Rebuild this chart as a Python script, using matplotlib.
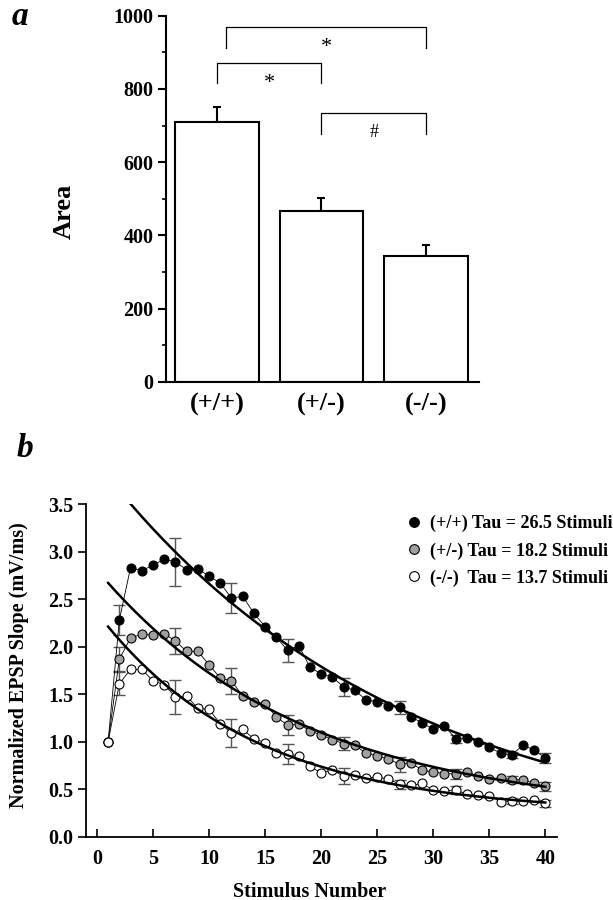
import matplotlib.pyplot as plt
from matplotlib.lines import Line2D
from matplotlib.ticker import MultipleLocator, FormatStrFormatter
import numpy as np

plt.rcParams['font.family'] = ['Liberation Serif', 'DejaVu Serif']
plt.rcParams['font.weight'] = 'bold'
plt.rcParams['axes.labelweight'] = 'bold'

# ---- panel a data ----
genotypes = ['(+/+)', '(+/-)', '(-/-)']
area_mean = [710, 467, 343]
area_sem = [41, 35, 32]
# (left bar, right bar, label)
comparisons = [(0, 2, '*'), (0, 1, '*'), (1, 2, '#')]

# ---- panel b data ----
stimulus = np.arange(1, 41)
slope_wt = [1.00, 2.28, 2.83, 2.80, 2.855, 2.92, 2.89, 2.81, 2.82, 2.74,
            2.67, 2.51, 2.53, 2.35, 2.21, 2.10, 1.96, 2.01, 1.785, 1.71,
            1.68, 1.575, 1.54, 1.44, 1.42, 1.38, 1.36, 1.26, 1.20, 1.13,
            1.165, 1.03, 1.04, 1.00, 0.94, 0.88, 0.86, 0.965, 0.91, 0.83]
slope_het = [1.00, 1.87, 2.09, 2.13, 2.12, 2.135, 2.06, 1.95, 1.95, 1.81,
             1.67, 1.64, 1.48, 1.42, 1.40, 1.26, 1.175, 1.185, 1.115, 1.07,
             1.02, 0.98, 0.96, 0.88, 0.85, 0.82, 0.76, 0.78, 0.70, 0.68,
             0.665, 0.66, 0.68, 0.64, 0.61, 0.62, 0.60, 0.60, 0.56, 0.53]
slope_ko = [1.00, 1.61, 1.76, 1.76, 1.64, 1.60, 1.47, 1.48, 1.35, 1.34,
            1.19, 1.09, 1.13, 1.03, 0.99, 0.88, 0.87, 0.85, 0.74, 0.67,
            0.70, 0.64, 0.65, 0.62, 0.625, 0.61, 0.55, 0.54, 0.56, 0.49,
            0.48, 0.49, 0.45, 0.435, 0.43, 0.37, 0.375, 0.375, 0.39, 0.35]

err_stim = [2, 7, 12, 17, 22, 27, 32, 37, 40]
err_wt = [0.16, 0.25, 0.155, 0.125, 0.09, 0.07, 0.04, 0.03, 0.055]
err_het = [0.13, 0.135, 0.135, 0.11, 0.07, 0.08, 0.05, 0.04, 0.045]
err_ko = [0.12, 0.175, 0.145, 0.11, 0.085, 0.05, 0.04, 0.03, 0.035]

# exponential fits: amplitude, tau, offset, first stimulus
fit_wt = (4.05, 26.5, -0.115, 3)
fit_het = (2.566, 18.2, 0.241, 1)
fit_ko = (2.113, 13.7, 0.246, 1)

legend_labels = ['(+/+) Tau = 26.5 Stimuli',
                 '(+/-) Tau = 18.2 Stimuli',
                 '(-/-)  Tau = 13.7 Stimuli']

fig = plt.figure(figsize=(6.13, 9), dpi=100)

# ================= panel a =================
ax1 = fig.add_axes([0.2708, 0.5756, 0.5106, 0.4070])
xpos = np.arange(len(genotypes))
ax1.bar(xpos, area_mean, width=0.8, color='white', edgecolor='black',
        linewidth=1.5, zorder=2)
ax1.errorbar(xpos, area_mean, yerr=[np.zeros(3), area_sem], fmt='none',
             ecolor='black', elinewidth=1.5, capsize=3, capthick=1.5, zorder=1)

bracket_top = [969, 871, 733]
bracket_drop = 56
left_shift = [0.09, 0.0, 0.0]
for (i, j, lab), top, sh in zip(comparisons, bracket_top, left_shift):
    x0, x1 = xpos[i] + sh, xpos[j]
    ax1.plot([x0, x0, x1, x1], [top - bracket_drop, top, top, top - bracket_drop],
             color='black', lw=0.9, clip_on=False)
    if lab == '*':
        ax1.text((x0 + x1) / 2, top - 55, lab, ha='center', va='center',
                 fontsize=16, fontweight='normal')
    else:
        ax1.text((x0 + x1) / 2, top - 52, lab, ha='center', va='center',
                 fontsize=13, fontweight='normal')

ax1.set_xlim(-0.486, 2.507)
ax1.set_ylim(0, 1000)
ax1.set_xticks(xpos)
ax1.set_xticklabels(genotypes, fontsize=19)
ax1.tick_params(axis='x', length=0, pad=8)
ax1.yaxis.set_major_locator(MultipleLocator(200))
ax1.yaxis.set_minor_locator(MultipleLocator(100))
ax1.tick_params(axis='y', which='major', direction='out', length=6, width=1.5,
                labelsize=14.5, pad=3)
ax1.tick_params(axis='y', which='minor', direction='out', length=3, width=1.2)
for s in ['top', 'right']:
    ax1.spines[s].set_visible(False)
for s in ['left', 'bottom']:
    ax1.spines[s].set_linewidth(1.5)
ax1.set_ylabel('Area', fontsize=19)
ax1.yaxis.set_label_coords(-0.2875, 0.465)

fig.text(0.033, 0.982, 'a', fontsize=24, fontstyle='italic', fontweight='bold',
         ha='center', va='center')

# ================= panel b =================
ax2 = fig.add_axes([0.1398, 0.0703, 0.7682, 0.3697])

series = [(slope_wt, err_wt, fit_wt, 'black'),
          (slope_het, err_het, fit_het, '#a0a0a0'),
          (slope_ko, err_ko, fit_ko, 'white')]

for vals, errs, fit, face in series:
    vals = np.asarray(vals)
    ax2.plot(stimulus, vals, '-', color='black', lw=0.6, zorder=3)
    ax2.scatter(stimulus, vals, s=42, facecolor=face, edgecolor='black',
                linewidths=0.8, zorder=4)
    idx = np.array(err_stim) - 1
    ax2.errorbar(err_stim, vals[idx], yerr=errs, fmt='none', ecolor='#555555',
                 elinewidth=1.0, capsize=4.5, capthick=1.0, zorder=2)
    amp, tau, off, start = fit
    xf = np.linspace(start, 40, 200)
    ax2.plot(xf, amp * np.exp(-xf / tau) + off, color='black', lw=1.8, zorder=5)

handles = [Line2D([], [], ls='none', marker='o', markersize=7,
                  markerfacecolor=f, markeredgecolor='black', markeredgewidth=0.8)
           for f in ['black', '#a0a0a0', 'white']]
ax2.legend(handles, legend_labels, loc='upper left', bbox_to_anchor=(0.679, 0.967),
           frameon=False, fontsize=13, handlelength=0.9, handletextpad=0.45,
           labelspacing=0.55, borderpad=0, borderaxespad=0)

ax2.set_xlim(-1, 41)
ax2.set_ylim(0, 3.5)
ax2.xaxis.set_major_locator(MultipleLocator(5))
ax2.yaxis.set_major_locator(MultipleLocator(0.5))
ax2.yaxis.set_major_formatter(FormatStrFormatter('%.1f'))
ax2.tick_params(axis='x', direction='in', length=6, width=1.2, labelsize=14.5, pad=9)
ax2.tick_params(axis='y', direction='out', length=6, width=1.2, labelsize=14.5, pad=3)
for s in ['top', 'right']:
    ax2.spines[s].set_visible(False)
for s in ['left', 'bottom']:
    ax2.spines[s].set_linewidth(1.3)
ax2.set_xlabel('Stimulus Number', fontsize=14.5)
ax2.xaxis.set_label_coords(0.476, -0.135)
ax2.set_ylabel('Normalized EPSP Slope (mV/ms)', fontsize=14.5)
ax2.yaxis.set_label_coords(-0.120, 0.516)

fig.text(0.041, 0.502, 'b', fontsize=24, fontstyle='italic', fontweight='bold',
         ha='center', va='center')

fig.savefig('out.png', dpi=100)
